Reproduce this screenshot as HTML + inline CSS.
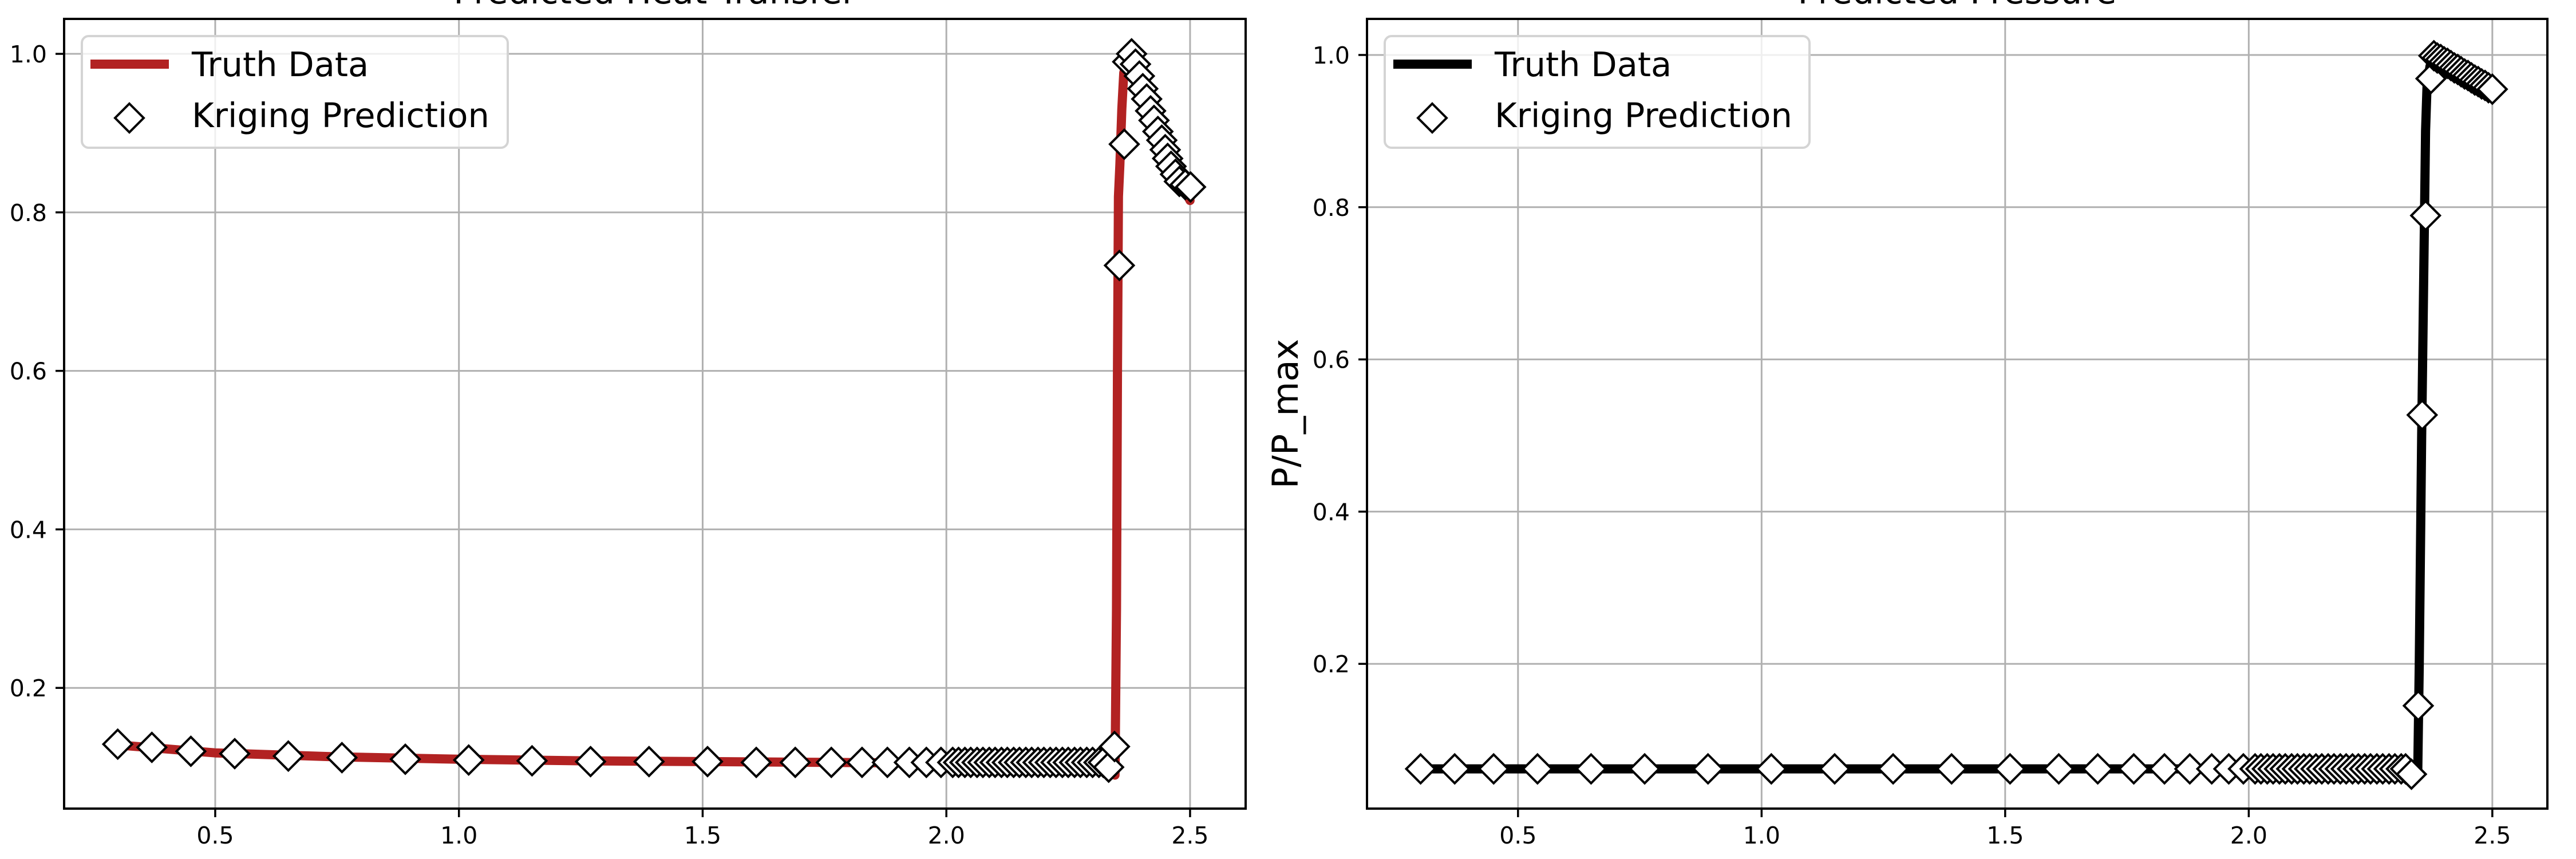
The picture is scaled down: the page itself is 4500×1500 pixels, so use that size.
<!DOCTYPE html>
<html><head><meta charset="utf-8">
<style>
html,body{margin:0;padding:0;background:#fff;}
svg{display:block;font-family:"DejaVu Sans","Liberation Sans",sans-serif;}
</style></head>
<body>
<svg id="chart" width="4500" height="1500" viewBox="0 0 4500 1500" xmlns="http://www.w3.org/2000/svg">
<rect x="0" y="0" width="4500" height="1500" fill="#fff"/>
</svg>
<script>
// ---------- data ----------
const xTicks = [0.5, 1.0, 1.5, 2.0, 2.5];
const xTickLabels = ["0.5", "1.0", "1.5", "2.0", "2.5"];
const yTicks = [0.2, 0.4, 0.6, 0.8, 1.0];
const yTickLabels = ["0.2", "0.4", "0.6", "0.8", "1.0"];

// Heat transfer truth line
const heatTruthX = [0.3, 0.5, 0.75, 1.0, 1.25, 1.5, 1.75, 2.0, 2.2, 2.3, 2.34, 2.346, 2.349, 2.351, 2.353, 2.356, 2.36, 2.364, 2.37, 2.378, 2.385, 2.4, 2.42, 2.45, 2.48, 2.5];
const heatTruthY = [0.128, 0.118, 0.113, 0.110, 0.108, 0.107, 0.106, 0.105, 0.104, 0.104, 0.100, 0.090, 0.3, 0.6, 0.82, 0.86, 0.93, 0.976, 0.99, 0.998, 0.99, 0.962, 0.925, 0.875, 0.838, 0.815];
// Heat transfer kriging markers
const heatPredX = [0.3, 0.37, 0.45, 0.54, 0.65, 0.76, 0.89, 1.02, 1.15, 1.27, 1.39, 1.51, 1.61, 1.69, 1.764, 1.827, 1.879, 1.924, 1.959, 1.989, 2.013, 2.025, 2.038, 2.050, 2.063, 2.075, 2.088, 2.100, 2.113, 2.125, 2.138, 2.150, 2.163, 2.175, 2.188, 2.200, 2.213, 2.225, 2.238, 2.250, 2.263, 2.275, 2.288, 2.300, 2.313, 2.322, 2.333, 2.345, 2.355, 2.365, 2.372, 2.380, 2.388, 2.396, 2.403, 2.411, 2.419, 2.426, 2.434, 2.442, 2.449, 2.454, 2.461, 2.470, 2.478, 2.490, 2.501];
const heatPredY = [0.129, 0.125, 0.120, 0.117, 0.114, 0.112, 0.110, 0.109, 0.108, 0.107, 0.107, 0.107, 0.106, 0.106, 0.106, 0.106, 0.106, 0.106, 0.106, 0.106, 0.106, 0.106, 0.106, 0.106, 0.106, 0.106, 0.106, 0.106, 0.106, 0.106, 0.106, 0.106, 0.106, 0.106, 0.106, 0.106, 0.106, 0.106, 0.106, 0.106, 0.106, 0.106, 0.106, 0.106, 0.106, 0.106, 0.100, 0.126, 0.733, 0.886, 0.990, 1.000, 0.987, 0.972, 0.956, 0.943, 0.928, 0.916, 0.902, 0.891, 0.879, 0.868, 0.858, 0.848, 0.839, 0.835, 0.832];

// Pressure truth line
const presTruthX = [0.3, 0.75, 1.25, 1.75, 2.0, 2.3, 2.344, 2.347, 2.35, 2.355, 2.36, 2.363, 2.366, 2.372, 2.38, 2.42, 2.46, 2.5];
const presTruthY = [0.062, 0.062, 0.062, 0.062, 0.062, 0.062, 0.058, 0.06, 0.2, 0.5, 0.75, 0.9, 0.96, 0.985, 0.999, 0.985, 0.968, 0.945];
// Pressure kriging markers
const presPredX = [0.3, 0.37, 0.45, 0.54, 0.65, 0.76, 0.89, 1.02, 1.15, 1.27, 1.39, 1.51, 1.61, 1.69, 1.764, 1.827, 1.879, 1.924, 1.959, 1.989, 2.013, 2.025, 2.038, 2.050, 2.063, 2.075, 2.088, 2.100, 2.113, 2.125, 2.138, 2.150, 2.163, 2.175, 2.188, 2.200, 2.213, 2.225, 2.238, 2.250, 2.263, 2.275, 2.288, 2.300, 2.313, 2.322, 2.334, 2.348, 2.356, 2.363, 2.374, 2.380, 2.387, 2.394, 2.401, 2.408, 2.415, 2.422, 2.429, 2.436, 2.443, 2.450, 2.457, 2.464, 2.471, 2.478, 2.485, 2.492, 2.500];
const presPredY = [0.062, 0.062, 0.062, 0.062, 0.062, 0.062, 0.062, 0.062, 0.062, 0.062, 0.062, 0.062, 0.062, 0.062, 0.062, 0.062, 0.062, 0.062, 0.062, 0.062, 0.062, 0.062, 0.062, 0.062, 0.062, 0.062, 0.062, 0.062, 0.062, 0.062, 0.062, 0.062, 0.062, 0.062, 0.062, 0.062, 0.062, 0.062, 0.062, 0.062, 0.062, 0.062, 0.062, 0.062, 0.062, 0.062, 0.055, 0.145, 0.527, 0.789, 0.969, 0.999, 0.996, 0.994, 0.991, 0.989, 0.986, 0.983, 0.981, 0.978, 0.975, 0.973, 0.970, 0.967, 0.965, 0.962, 0.960, 0.957, 0.955];

// ---------- drawing ----------
const NS = "http://www.w3.org/2000/svg";
const svg = document.getElementById("chart");
function mk(tag, attrs, parent) {
  const e = document.createElementNS(NS, tag);
  for (const k in attrs) e.setAttribute(k, attrs[k]);
  (parent || svg).appendChild(e);
  return e;
}

function drawPanel(cfg) {
  const g = mk("g", {});
  
  
  const L = cfg.left, R = cfg.right, T = 33, B = 1412;
  const xs = v => L + (v - cfg.xmin) / (cfg.xmax - cfg.xmin) * (R - L);
  const ys = v => B - (v - cfg.ymin) / (cfg.ymax - cfg.ymin) * (B - T);

  // grid
  xTicks.forEach((t, i) => {
    const ln = mk("line", {x1: xs(t), x2: xs(t), y1: T, y2: B, stroke: "#b0b0b0", "stroke-width": 3}, g);
    
    
    const tk = mk("line", {x1: xs(t), x2: xs(t), y1: B, y2: B + 15, stroke: "#000", "stroke-width": 3.5}, g);
    
    
    const tx = mk("text", {x: xs(t), y: 1473, "font-size": 41, "text-anchor": "middle", fill: "#000"}, g);
    tx.textContent = xTickLabels[i];
    
    
  });
  yTicks.forEach((t, i) => {
    const ln = mk("line", {x1: L, x2: R, y1: ys(t), y2: ys(t), stroke: "#b0b0b0", "stroke-width": 3}, g);
    
    
    const tk = mk("line", {x1: L - 15, x2: L, y1: ys(t), y2: ys(t), stroke: "#000", "stroke-width": 3.5}, g);
    
    
    const tx = mk("text", {x: L - 30, y: ys(t) + 15, "font-size": 41, "text-anchor": "end", fill: "#000"}, g);
    tx.textContent = yTickLabels[i];
    
    
  });

  // truth line
  const d = cfg.tx.map((v, i) => (i ? "L" : "M") + xs(v).toFixed(1) + " " + ys(cfg.ty[i]).toFixed(1)).join(" ");
  const p = mk("path", {d: d, fill: "none", stroke: cfg.color, "stroke-width": 16, "stroke-linejoin": "round", "stroke-linecap": "round"}, g);
  
  

  // markers
  cfg.px.forEach((v, i) => {
    const cx = xs(v), cy = ys(cfg.py[i]), r = 25;
    const m = mk("polygon", {points: `${cx},${cy - r} ${cx + r},${cy} ${cx},${cy + r} ${cx - r},${cy}`, fill: "#fff", stroke: "#000", "stroke-width": 4, "stroke-linejoin": "miter"}, g);
    
    
  });

  // spines
  const sp = mk("rect", {x: L, y: T, width: R - L, height: B - T, fill: "none", stroke: "#000", "stroke-width": 4}, g);
  
  

  // title
  const tt = mk("text", {x: (L + R) / 2, y: 6, "font-size": 60, "text-anchor": "middle", fill: "#000"}, g);
  tt.textContent = cfg.title;
  
  

  // y label
  if (cfg.ylabel) {
    const yl = mk("text", {x: 0, y: 0, "font-size": 62, "text-anchor": "middle", fill: "#000", transform: `translate(${L - 121},${(T + B) / 2}) rotate(-90)`}, g);
    yl.textContent = cfg.ylabel;
    
    
  }

  // legend
  const lg = mk("g", {}, g);
  
  
  const lx = L + 31;
  mk("rect", {x: lx, y: 63, width: cfg.legW, height: 195, rx: 12, fill: "rgba(255,255,255,0.8)", stroke: "#d4d4d4", "stroke-width": 4}, lg);
  const e1 = mk("g", {}, lg);
  
  
  mk("line", {x1: lx + 15, x2: lx + 152, y1: 112, y2: 112, stroke: cfg.color, "stroke-width": 16}, e1);
  const t1 = mk("text", {x: lx + 192, y: 133, "font-size": 59, fill: "#000"}, e1);
  t1.textContent = "Truth Data";
  const e2 = mk("g", {}, lg);
  
  
  const mx = lx + 83, my = 206, r = 25;
  mk("polygon", {points: `${mx},${my - r} ${mx + r},${my} ${mx},${my + r} ${mx - r},${my}`, fill: "#fff", stroke: "#000", "stroke-width": 4}, e2);
  const t2 = mk("text", {x: lx + 192, y: 222, "font-size": 59, fill: "#000"}, e2);
  t2.textContent = "Kriging Prediction";
}

drawPanel({name: "heat-transfer-panel", left: 112, right: 2176, xmin: 0.19, xmax: 2.614, ymin: 0.0477, ymax: 1.0441,
  tx: heatTruthX, ty: heatTruthY, px: heatPredX, py: heatPredY, color: "#b22222",
  title: "Predicted Heat Transfer", ylabel: null, legW: 744});
drawPanel({name: "pressure-panel", left: 2388, right: 4450, xmin: 0.19, xmax: 2.613, ymin: 0.0098, ymax: 1.0474,
  tx: presTruthX, ty: presTruthY, px: presPredX, py: presPredY, color: "#000000",
  title: "Predicted Pressure", ylabel: "P/P_max", legW: 742});
</script>
</body></html>
